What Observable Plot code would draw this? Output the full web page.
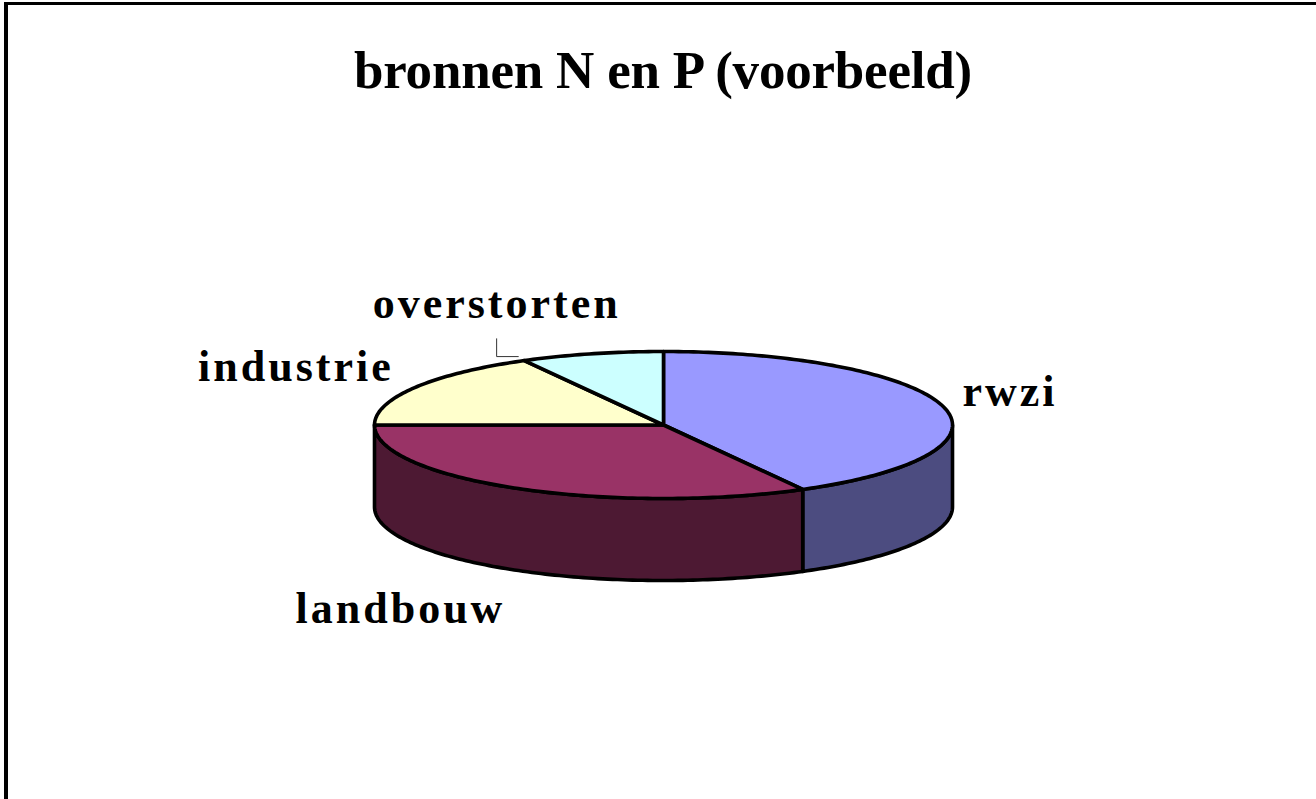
<!DOCTYPE html>
<html><head><meta charset="utf-8">
<script src="https://cdn.jsdelivr.net/npm/d3@7"></script>
<script src="https://cdn.jsdelivr.net/npm/@observablehq/plot@0.6"></script>
<style>
body{margin:0;background:#fff}
#frame{position:relative;width:1316px;height:799px;overflow:hidden;background:#fff}
#border{position:absolute;left:4px;top:2px;width:2000px;height:2000px;border-top:3px solid #000;border-left:4px solid #000}
#title{position:absolute;top:40px;left:0;width:1326px;text-align:center;font:bold 53px/60px "Liberation Serif","Times New Roman",serif;color:#000;white-space:nowrap;letter-spacing:-0.2px}
#chart{position:absolute;top:130px;left:0}
#chart svg text{letter-spacing:3px}
</style></head><body>
<div id="frame">
  <div id="border"></div>
  <div id="title"></div>
  <div id="chart"></div>
</div>
<script>
const title = "bronnen N en P (voorbeeld)";
const categories = ["rwzi", "landbouw", "industrie", "overstorten"];
const values = [42, 33, 17, 8];
const topColors = ["#9999FF", "#993366", "#FFFFCC", "#CCFFFF"];
const sideColors = ["#4C4C80", "#4D1933", "#808066", "#668080"];

document.getElementById("title").textContent = title;

// layout of the tilted pie (pixels inside the svg)
const OFFSET = 130;
const CX = 663, RX = 289, CY = 424.5 - OFFSET, RY = 73.5, DEPTH = 82;
const drop = DEPTH / RY;
const rad = d => d * Math.PI / 180;
const total = d3.sum(values);
let acc = 0;
const slices = values.map((v, i) => {
  const a0 = acc / total * 360; acc += v; const a1 = acc / total * 360;
  return {i, name: categories[i], a0, a1, mid: (a0 + a1) / 2};
});
const rim = (deg, d = 0) => ({x: Math.sin(rad(deg)), y: Math.cos(rad(deg)) - d});
function arcPts(a0, a1, d = 0) {
  const n = Math.max(2, Math.ceil(a1 - a0));
  return d3.range(n + 1).map(k => rim(a0 + (a1 - a0) * k / n, d));
}
const pxToU = (px, py) => ({x: (px - CX) / RX, y: (CY - py) / RY});
const uToPx = p => [CX + p.x * RX, CY - p.y * RY];

const marks = [];
const common = {x: "x", y: "y", stroke: "black", strokeWidth: 3.6, strokeLinejoin: "round", curve: "linear-closed"};
// visible side walls (front half)
for (const s of slices) {
  const lo = Math.max(s.a0, 90), hi = Math.min(s.a1, 270);
  if (hi > lo) {
    const pts = arcPts(lo, hi).concat(arcPts(lo, hi, drop).reverse());
    marks.push(Plot.line(pts, {...common, fill: sideColors[s.i]}));
  }
}
// top faces
for (const s of slices) {
  const pts = [{x: 0, y: 0}, ...arcPts(s.a0, s.a1)];
  marks.push(Plot.line(pts, {...common, fill: topColors[s.i]}));
}
// labels: anchored on the rim at the mid angle of each slice
const labelLayout = {
  rwzi:        {anchor: "start",  dx: 19,  dy: -15, low: false},
  landbouw:    {anchor: "end",    dx: -11, dy: 39,  low: true},
  industrie:   {anchor: "end",    dx: -21, dy: -21, low: false},
  overstorten: {anchor: "middle", dx: -95, dy: -50, low: false}
};
for (const s of slices) {
  const L = labelLayout[s.name];
  const p = rim(s.mid, L.low ? drop : 0);
  marks.push(Plot.text([{...p, label: s.name}], {
    x: "x", y: "y", text: "label", textAnchor: L.anchor, dx: L.dx, dy: L.dy,
    fontSize: 44, fontWeight: "bold", fontFamily: "Liberation Serif", fill: "black"
  }));
}
// leader line for the moved label
{
  const s = slices[3], L = labelLayout.overstorten;
  const [mx, my] = uToPx(rim(s.mid));
  const lx = mx + L.dx, ly = my + L.dy;
  const [bx, by] = uToPx(rim(s.a0));
  const pts = [pxToU(lx, ly + 35), pxToU(lx, by - 4), pxToU(bx - 6, by - 4)];
  marks.push(Plot.line(pts, {x: "x", y: "y", stroke: "#333", strokeWidth: 1}));
}

const chart = Plot.plot({
  width: 1316,
  height: 669,
  x: {domain: [-1, 1], range: [CX - RX, CX + RX], axis: null},
  y: {domain: [-1, 1], range: [CY + RY, CY - RY], axis: null},
  style: {background: "transparent", overflow: "visible"},
  marks
});
document.getElementById("chart").appendChild(chart);
</script>
</body></html>
